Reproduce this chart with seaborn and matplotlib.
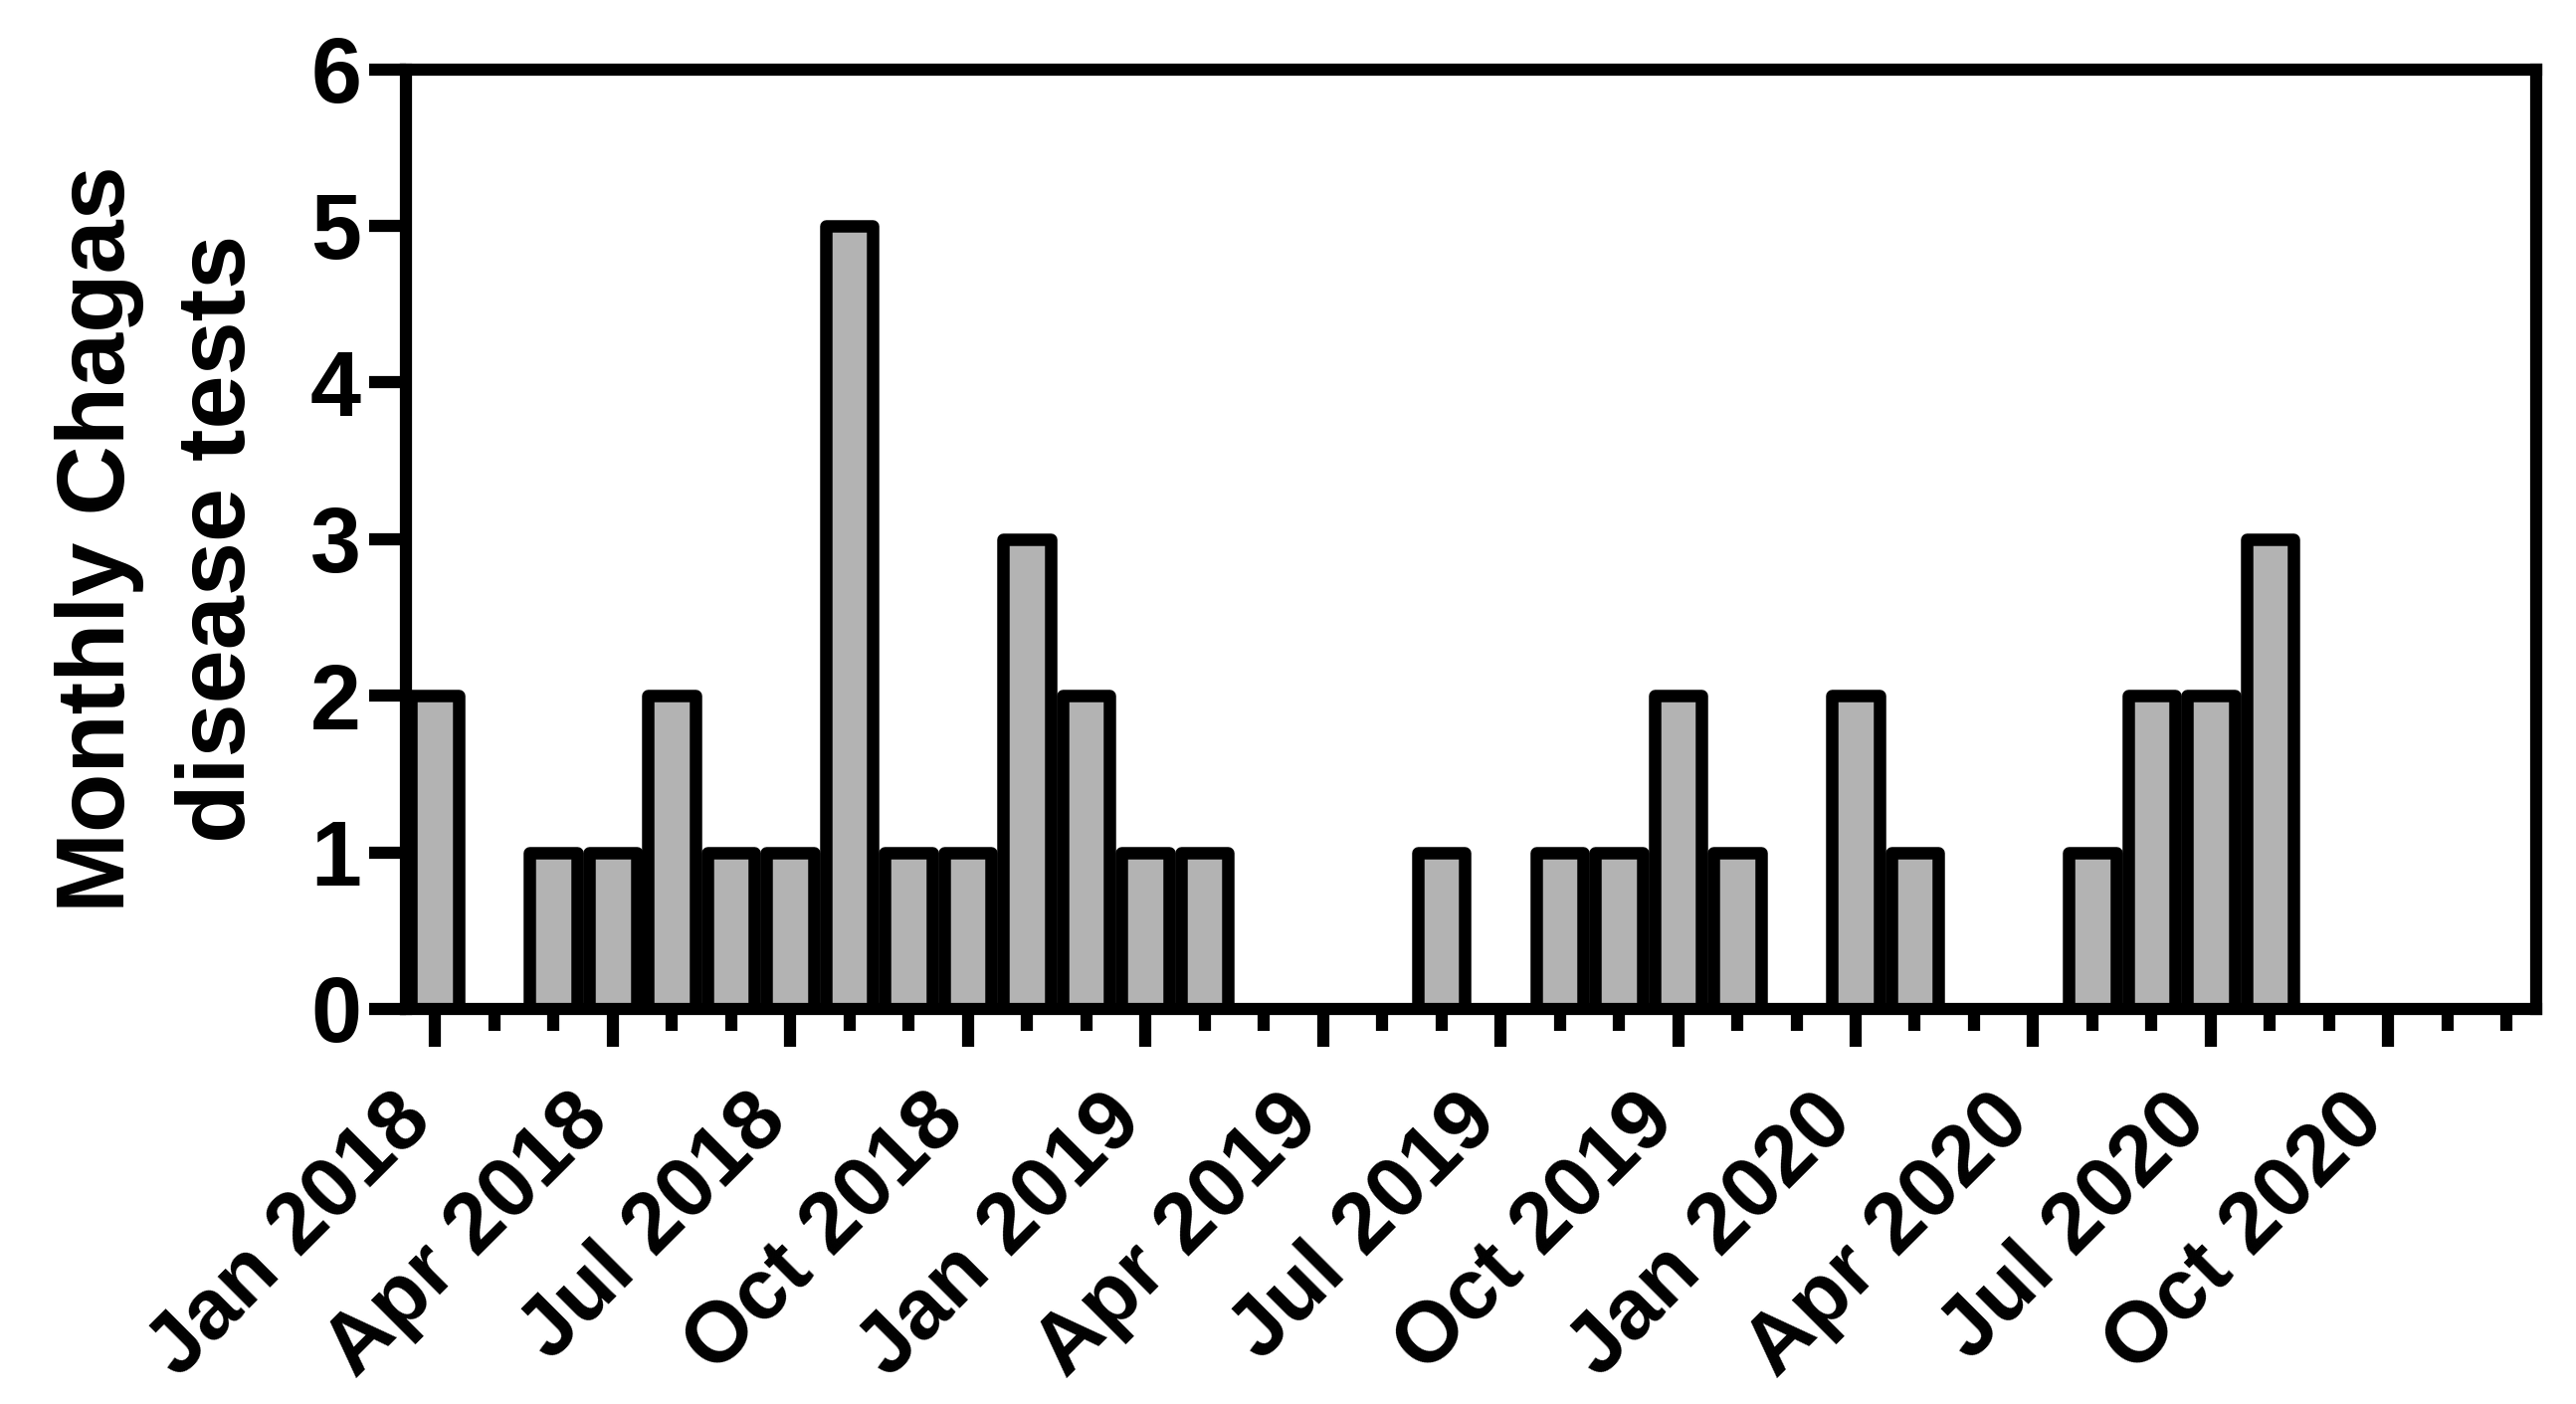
import numpy as np
import pandas as pd
import matplotlib
matplotlib.use("Agg")
import matplotlib.pyplot as plt
import matplotlib.transforms as mtransforms
import seaborn as sns

# monthly test counts, Jan 2018 - Dec 2020
month_names = ["Jan", "Feb", "Mar", "Apr", "May", "Jun",
               "Jul", "Aug", "Sep", "Oct", "Nov", "Dec"]
years = [2018, 2019, 2020]
tests_2018 = [2, 0, 1, 1, 2, 1, 1, 5, 1, 1, 3, 2]
tests_2019 = [1, 1, 0, 0, 0, 1, 0, 1, 1, 2, 1, 0]
tests_2020 = [2, 1, 0, 0, 1, 2, 2, 3, 0, 0, 0, 0]
y_ticks = [0, 1, 2, 3, 4, 5, 6]

BAR_COLOR = "#b3b3b3"
LW = 8.8

sns.set_style("ticks")
plt.rcParams["font.family"] = ["Liberation Sans", "DejaVu Sans"]
plt.rcParams["font.weight"] = "bold"
plt.rcParams["text.color"] = "black"
plt.rcParams["axes.labelcolor"] = "black"
plt.rcParams["xtick.color"] = "black"
plt.rcParams["ytick.color"] = "black"

months = [f"{m} {y}" for y in years for m in month_names]
df = pd.DataFrame({
    "month": months,
    "tests": tests_2018 + tests_2019 + tests_2020,
})

fig = plt.figure(figsize=(25.89, 14.11), dpi=100)
ax = fig.add_axes([0.1574, 0.2814, 0.9846 - 0.1574, 0.9507 - 0.2814])

sns.barplot(data=df, x="month", y="tests", color=BAR_COLOR, saturation=1,
            width=0.8, edgecolor="black", linewidth=9, ax=ax)
for p in ax.patches:
    p.set_joinstyle("round")

ax.set_xlim(-0.5, len(months) - 0.5)
ax.set_ylim(0, 6)
ax.set_yticks(y_ticks)
ax.set_yticklabels([str(v) for v in y_ticks], fontsize=66, fontweight="bold")

pos = np.arange(len(months))
ax.set_xticks(pos[::3])
ax.set_xticklabels(months[::3], rotation=45, ha="right",
                   fontsize=62, fontweight="bold")
ax.set_xticks(pos, minor=True)

for s in ax.spines.values():
    s.set_visible(True)
    s.set_linewidth(LW)
    s.set_color("black")

ax.tick_params(axis="both", which="major", direction="out", length=27,
               width=LW, color="black", labelcolor="black", pad=5)
ax.tick_params(axis="x", which="minor", direction="out", length=16,
               width=LW, color="black")
ax.tick_params(axis="x", which="major", pad=24)

offset = mtransforms.ScaledTranslation(12 / 100, 0, fig.dpi_scale_trans)
for lab in ax.get_xticklabels():
    lab.set_transform(lab.get_transform() + offset)

ax.set_xlabel("")
ax.set_ylabel("Monthly Chagas\ndisease tests", fontsize=70, fontweight="bold",
              color="black", linespacing=1.45)
ax.yaxis.set_label_coords(-0.066, 0.5)

fig.savefig("out.png", dpi=100)
